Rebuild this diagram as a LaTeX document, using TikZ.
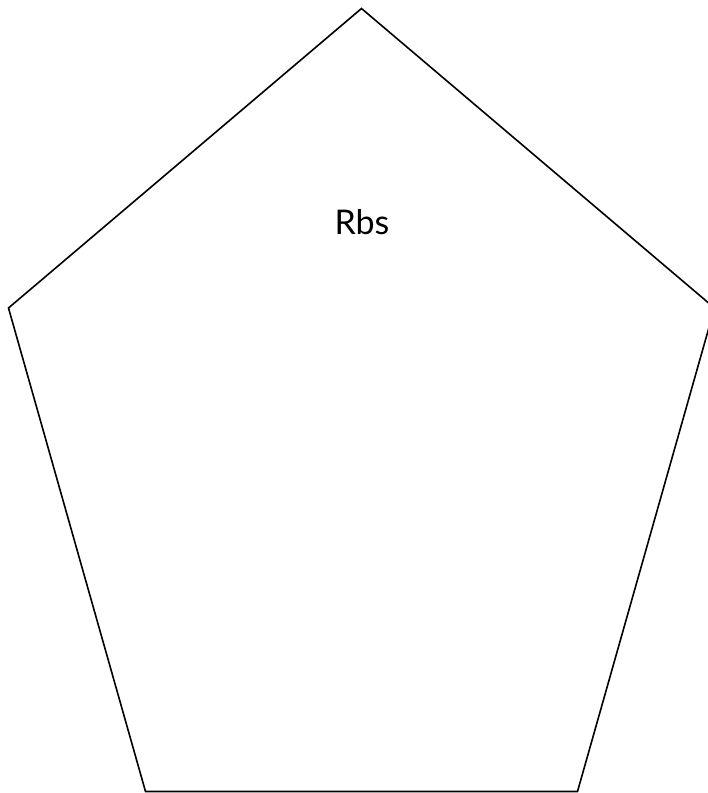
\documentclass[tikz,border=0pt]{standalone}
\usepackage{fontspec}
\setmainfont{Lato}
\begin{document}
\begin{tikzpicture}[x=1pt,y=1pt,
  pent/.style={draw=black,line width=1.6pt,line join=miter},
  lbl/.style={font=\fontsize{34}{40}\selectfont,text=black}]
\useasboundingbox (0,0) rectangle (708,793);
\clip (0,0) rectangle (708,793);
\coordinate (t) at (361.5,784.5);
\coordinate (l) at (8.5,485);
\coordinate (r) at (714.5,485);
\coordinate (br) at (577.5,1.5);
\coordinate (bl) at (145.5,1.5);
\draw[pent] (t) -- (r) -- (br) -- (bl) -- (l) -- cycle;
\node[lbl] (name) at (362,571) {Rbs};
\end{tikzpicture}
\end{document}
